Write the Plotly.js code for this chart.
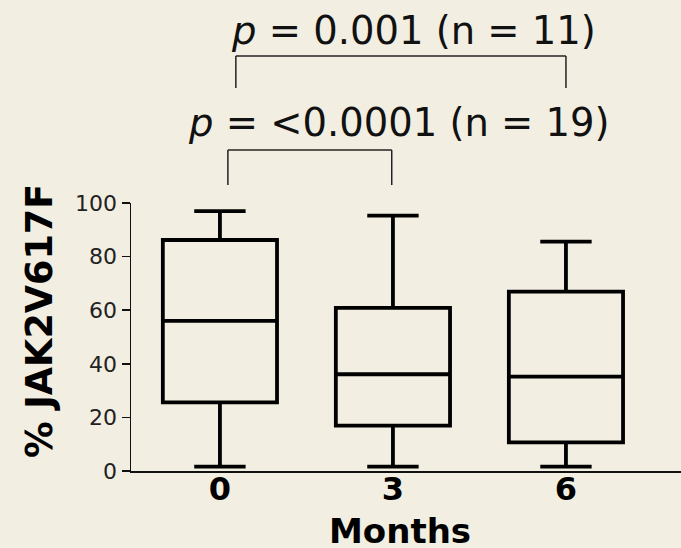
<!DOCTYPE html>
<html>
<head>
<meta charset="utf-8">
<script src="https://cdn.plot.ly/plotly-3.0.1.min.js"></script>
<style>
  html, body { margin: 0; padding: 0; background: #F2EEE1; }
  #chart { width: 681px; height: 548px; }
</style>
</head>
<body>
<div id="chart"></div>
<script>
// Data
const months = ['0', '3', '6'];
const lowerWhisker = [1.6, 1.6, 1.6];
const q1 = [25.6, 16.9, 10.7];
const median = [56.0, 36.1, 35.2];
const q3 = [86.2, 60.9, 66.9];
const upperWhisker = [97.0, 95.3, 85.6];
const yTicks = [0, 20, 40, 60, 80, 100];
const comparisons = [
  {label: '<i>p</i> = &lt;0.0001 (n = 19)', from: '0', to: '3'},
  {label: '<i>p</i> = 0.001 (n = 11)', from: '0', to: '6'}
];
const xTitle = 'Months';
const yTitle = '% JAK2V617F';

const FONT = 'DejaVu Sans, Verdana, sans-serif';
const BG = '#F2EEE1';

const trace = {
  type: 'box',
  x: months,
  q1: q1,
  median: median,
  q3: q3,
  lowerfence: lowerWhisker,
  upperfence: upperWhisker,
  boxpoints: false,
  width: 0.66,
  whiskerwidth: 0.45,
  line: {color: '#000', width: 3.8},
  fillcolor: 'rgba(0,0,0,0)',
  showlegend: false,
  hoverinfo: 'skip'
};

const idx = m => months.indexOf(m);

// bracket geometry (positions in paper / index offsets)
const brackets = [
  {c: comparisons[0], xOff0: 0.046, xOff1: -0.007, yTop: 1.198, yBot: 1.067, tx: 1.035, ty: 1.300},
  {c: comparisons[1], xOff0: 0.092, xOff1: 0.0, yTop: 1.5485, yBot: 1.429, tx: 1.118, ty: 1.645}
];

const shapes = [];
const annotations = [];
brackets.forEach(b => {
  const x0 = idx(b.c.from) + b.xOff0;
  const x1 = idx(b.c.to) + b.xOff1;
  const ln = {color: '#222', width: 1.5};
  shapes.push({type: 'line', xref: 'x', yref: 'paper', x0: x0, x1: x0, y0: b.yBot, y1: b.yTop, line: ln});
  shapes.push({type: 'line', xref: 'x', yref: 'paper', x0: x0, x1: x1, y0: b.yTop, y1: b.yTop, line: ln});
  shapes.push({type: 'line', xref: 'x', yref: 'paper', x0: x1, x1: x1, y0: b.yTop, y1: b.yBot, line: ln});
  annotations.push({
    xref: 'x', yref: 'paper', x: b.tx, y: b.ty,
    xanchor: 'center', yanchor: 'middle',
    text: b.c.label, showarrow: false,
    font: {family: FONT, size: 38.5, color: '#111'}
  });
});

// y-axis title
annotations.push({
  xref: 'paper', yref: 'paper', x: -0.1673, y: 0.5597,
  xanchor: 'center', yanchor: 'middle', textangle: -90,
  text: '<b>' + yTitle + '</b>', showarrow: false,
  font: {family: FONT, size: 36.5, color: '#000'}
});
// x-axis title
annotations.push({
  xref: 'paper', yref: 'paper', x: 0.489, y: -0.2873,
  xanchor: 'center', yanchor: 'bottom', yshift: -4, borderpad: 0,
  text: '<b>' + xTitle + '</b>', showarrow: false,
  font: {family: FONT, size: 34, color: '#000'}
});

const layout = {
  width: 681, height: 548,
  paper_bgcolor: BG, plot_bgcolor: BG,
  margin: {l: 131, r: 0, t: 203, b: 77, pad: 0},
  showlegend: false,
  xaxis: {
    type: 'category',
    range: [-0.514, 2.665],
    showline: true, linecolor: '#111', linewidth: 2,
    showgrid: false, zeroline: false,
    ticks: '',
    ticklabelstandoff: -11,
    tickfont: {family: FONT, size: 32, color: '#000', weight: 'bold'},
    automargin: false,
    fixedrange: true
  },
  yaxis: {
    range: [0, 100],
    tickvals: yTicks,
    ticktext: yTicks.map(String),
    showline: true, linecolor: '#111', linewidth: 1.5,
    showgrid: false, zeroline: false,
    ticks: 'outside', ticklen: 8, tickwidth: 1.5, tickcolor: '#111',
    tickfont: {family: FONT, size: 22, color: '#222'},
    automargin: false,
    fixedrange: true
  },
  shapes: shapes,
  annotations: annotations
};

Plotly.newPlot('chart', [trace], layout, {staticPlot: true, displayModeBar: false});
</script>
</body>
</html>
